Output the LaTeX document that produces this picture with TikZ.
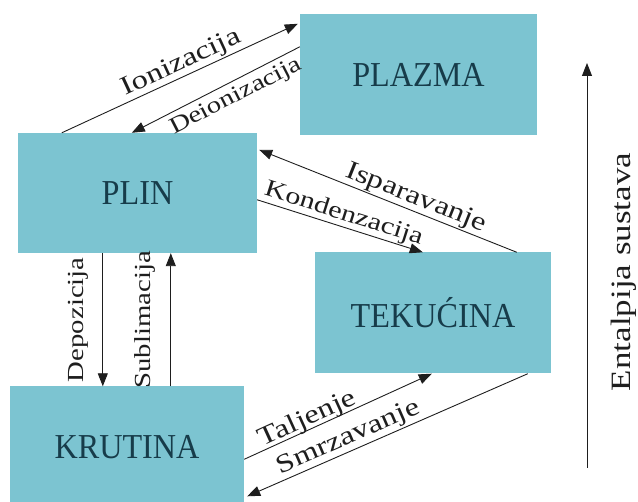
\documentclass[tikz,border=0pt]{standalone}
\usepackage{fontspec}
\setmainfont{Liberation Serif}
\newfontfamily\widefont[FakeStretch=1.25]{Liberation Serif}
\newfontfamily\boxfont[FakeStretch=0.92]{Liberation Serif}
\usetikzlibrary{calc,arrows.meta}
\definecolor{box}{HTML}{7CC4D1}
\definecolor{boxtext}{HTML}{173C4A}
\definecolor{ink}{HTML}{1E1E1E}
\tikzset{
  state/.style={fill=box, minimum width=236pt, minimum height=121pt, inner sep=0pt, text=boxtext, font=\boxfont\fontsize{35}{40}\selectfont},
  trans/.style={draw=ink, line width=0.9pt, -{Triangle[length=13pt,width=10pt]}},
  lab/.style={sloped, above, inner sep=1pt, text=ink, font=\widefont\fontsize{26}{30}\selectfont},
  labb/.style={lab, below},
  small/.style={font=\widefont\fontsize{23}{28}\selectfont},
  vlab/.style={rotate=90, anchor=south, inner xsep=1pt, inner ysep=14pt, text=ink, font=\widefont\fontsize{23}{28}\selectfont},
}
\begin{document}
\begin{tikzpicture}[x=1pt,y=-1pt]
  \useasboundingbox (0,0) rectangle (638,502);
  \clip (0,0) rectangle (638,502);
  % states
  \node[state, minimum width=237pt] (plazma) at (418.5,74.5) {PLAZMA};
  \node[state, minimum width=239pt, minimum height=120pt] (plin) at (137.5,193) {PLIN};
  \node[state] (tek) at (433,313) {TEKUĆINA};
  \node[state, minimum width=234pt] (krut) at (127,447) {KRUTINA};
  % transitions
  \draw[trans] ($(plin.north west)+(44,0)$) -- node[lab, pos=0.53] (lion) {Ionizacija} ($(plazma.north west)+(-2,10)$);
  \draw[trans] ($(plazma.north west)+(0,33)$) -- node[labb, small, pos=0.42, below=4pt] (ldeion) {Deionizacija} ($(plin.north west)+(114,0)$);
  \draw[trans] ($(tek.north west)+(202,0)$) -- node[lab, pos=0.41] (lispar) {Isparavanje} ($(plin.north east)+(2,17)$);
  \draw[trans] ($(plin.north east)+(0,67)$) -- node[lab, font=\widefont\fontsize{24}{28}\selectfont, pos=0.5] (lkond) {Kondenzacija} ($(tek.north west)+(108,0)$);
  \draw[trans] ($(plin.south west)+(85,0)$) -- node[vlab] (ldep) {Depozicija} ($(krut.north west)+(93,0)$);
  \draw[trans] ($(krut.north west)+(161,0)$) -- node[lab, small, above=14pt] (lsub) {Sublimacija} ($(plin.south west)+(153,0)$);
  \draw[trans] ($(krut.north east)+(0,73)$) -- node[lab, pos=0.36, above=-3pt] (ltalj) {Taljenje} ($(tek.south west)+(117,0)$);
  \draw[trans] ($(tek.south west)+(213,0)$) -- node[lab, pos=0.62] (lsmrz) {Smrzavanje} ($(krut.north east)+(3,110)$);
  % enthalpy axis
  \coordinate (hlo) at (587,468);
  \coordinate (hhi) at (587,63);
  \draw[trans] (hlo) -- (hhi);
  \node[rotate=90, text=ink, font=\widefont\fontsize{28}{32}\selectfont] (ent) at (624,272) {Entalpija sustava};
\end{tikzpicture}
\end{document}
